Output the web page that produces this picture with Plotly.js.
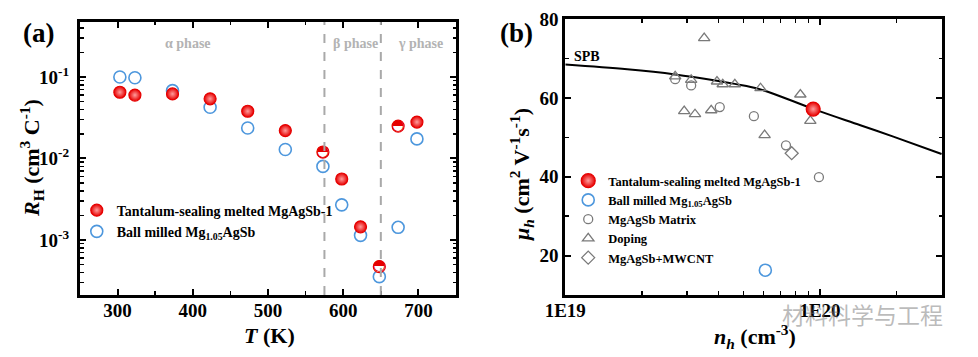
<!DOCTYPE html>
<html><head><meta charset="utf-8">
<script src="https://cdn.plot.ly/plotly-3.0.1.min.js"></script>
<style>body{margin:0;background:#fff}#chart{width:978px;height:357px}</style>
</head><body><div id="chart"></div>
<script>
// ---------- Panel (a): Hall coefficient vs temperature ----------
const temperatureK = [303, 323, 373, 423, 473, 523, 573, 598, 623, 648, 673, 698];
const rhTantalum   = [0.065, 0.060, 0.062, 0.054, 0.038, 0.022, 0.012, 0.0056, 0.00145, 0.00047, 0.025, 0.028];
const rhBallMilled = [0.100, 0.098, 0.068, 0.0425, 0.0237, 0.0129, 0.0080, 0.0027, 0.00114, 0.000355, 0.00143, 0.0174];
const halfFilledT  = [573, 648, 673];
const phaseBoundariesK = [575, 650];
const phaseLabels  = ['α phase', 'β phase', 'γ phase'];
const phaseLabelT  = [393, 616, 703];
const phaseLabelRH = 0.26;
const rhTickVals   = [0.001, 0.01, 0.1];
const rhTickText   = ['10<sup>-3</sup>', '10<sup>-2</sup>', '10<sup>-1</sup>'];

// ---------- Panel (b): mobility vs carrier concentration ----------
const nhTantalum = [9.4e19];  const muTantalum = [57.2];
const nhBall     = [6.1e19];  const muBall     = [16.3];
const nhMatrix = [2.70e19, 3.12e19, 4.04e19, 5.5e19, 7.35e19, 9.9e19];
const muMatrix = [64.8, 63.2, 57.7, 55.4, 48.0, 39.9];
const nhDoping = [2.70e19, 3.12e19, 3.51e19, 3.94e19, 4.15e19, 4.63e19, 5.84e19, 8.37e19, 9.16e19, 2.93e19, 3.23e19, 3.74e19, 6.06e19];
const muDoping = [65.5, 64.6, 75.2, 64.2, 63.5, 63.5, 62.5, 60.9, 54.2, 56.7, 55.9, 56.9, 50.6];
const nhMWCNT = [7.74e19]; const muMWCNT = [46.0];
const nhSPB = [1e19, 1.75e19, 2.7e19, 3.94e19, 4.63e19, 5.84e19, 9.44e19, 1.44e20, 1.94e20, 3e20];
const muSPB = [68.5, 67.3, 66.0, 64.4, 63.6, 62.2, 57.2, 53.1, 50.2, 45.8];
const nhTickVals = [1e19, 1e20];
const nhTickText = ['1E19', '1E20'];

const SERIF = 'Liberation Serif, Times New Roman, serif';
const RED = '#e60000', RED_LIGHT = '#ff9c9c', BLUE = '#4d97dd', GRAY = '#7a7a7a';

const isHalf = temperatureK.map(t => halfFilledT.includes(t));

const traces = [
  { x: temperatureK, y: rhBallMilled, xaxis: 'x', yaxis: 'y', mode: 'markers', legend: 'legend', legendrank: 2,
    name: 'Ball milled Mg<sub>1.05</sub>AgSb',
    marker: { symbol: 'circle-open', size: 12, color: BLUE, line: { color: BLUE, width: 1.6 } } },
  { x: temperatureK, y: rhTantalum, xaxis: 'x', yaxis: 'y', mode: 'markers', legend: 'legend', legendrank: 1,
    name: 'Tantalum-sealing melted MgAgSb-1',
    marker: { symbol: 'circle', size: 12,
      color: isHalf.map(h => h ? '#ffffff' : RED),
      gradient: { type: isHalf.map(h => h ? 'none' : 'radial'), color: RED_LIGHT },
      line: { color: RED, width: 1.2 } } },
  { x: halfFilledT, y: halfFilledT.map(t => rhTantalum[temperatureK.indexOf(t)]), xaxis: 'x', yaxis: 'y',
    mode: 'text', text: halfFilledT.map(() => '◓'), textposition: 'middle center',
    textfont: { family: 'DejaVu Sans', size: 15, color: RED }, showlegend: false, hoverinfo: 'skip' },

  { x: nhSPB, y: muSPB, xaxis: 'x2', yaxis: 'y2', mode: 'lines', line: { color: '#000', width: 2, shape: 'spline' },
    showlegend: false, hoverinfo: 'skip' },
  { x: nhMatrix, y: muMatrix, xaxis: 'x2', yaxis: 'y2', mode: 'markers', legend: 'legend2', legendrank: 3, name: 'MgAgSb Matrix',
    marker: { symbol: 'circle-open', size: 9, color: GRAY, line: { color: GRAY, width: 1.3 } } },
  { x: nhDoping, y: muDoping, xaxis: 'x2', yaxis: 'y2', mode: 'markers', legend: 'legend2', legendrank: 4, name: 'Doping',
    marker: { symbol: 'triangle-up-open', size: 10, color: GRAY, line: { color: GRAY, width: 1.3 } } },
  { x: nhMWCNT, y: muMWCNT, xaxis: 'x2', yaxis: 'y2', mode: 'markers', legend: 'legend2', legendrank: 5, name: 'MgAgSb+MWCNT',
    marker: { symbol: 'diamond-open', size: 10, color: GRAY, line: { color: GRAY, width: 1.3 } } },
  { x: nhBall, y: muBall, xaxis: 'x2', yaxis: 'y2', mode: 'markers', legend: 'legend2', legendrank: 2,
    name: 'Ball milled Mg<sub>1.05</sub>AgSb',
    marker: { symbol: 'circle-open', size: 12, color: BLUE, line: { color: BLUE, width: 1.6 } } },
  { x: nhTantalum, y: muTantalum, xaxis: 'x2', yaxis: 'y2', mode: 'markers', legend: 'legend2', legendrank: 1,
    name: 'Tantalum-sealing melted MgAgSb-1',
    marker: { symbol: 'circle', size: 14, color: RED, gradient: { type: 'radial', color: RED_LIGHT },
      line: { color: RED, width: 1.2 } } }
];

const tickFont = { family: SERIF, size: 19, color: '#000', weight: 'bold' };
const frame = { showline: true, linewidth: 3, linecolor: '#000', mirror: 'allticks', ticks: 'inside',
  ticklen: 6, tickwidth: 2, tickcolor: '#000', showgrid: false, zeroline: false, tickfont: tickFont };
const minorTicks = (d) => ({ dtick: d, ticks: 'inside', ticklen: 3.5, tickwidth: 1.5, tickcolor: '#000', showgrid: false });

const ann = (text, x, y, size, extra) => Object.assign({ text, xref: 'paper', yref: 'paper', x: x / 978, y: 1 - y / 357,
  xanchor: 'center', yanchor: 'middle', showarrow: false,
  font: { family: SERIF, size, weight: 'bold', color: '#000' } }, extra || {});

const layout = {
  width: 978, height: 357,
  margin: { l: 0, r: 0, t: 0, b: 0 },
  paper_bgcolor: '#fff', plot_bgcolor: '#fff',
  font: { family: SERIF, color: '#000' },
  showlegend: true,
  xaxis: Object.assign({}, frame, { domain: [0.0818, 0.4663], range: [250, 750], tick0: 0, dtick: 100,
    minor: minorTicks(50), ticklabelstandoff: -4 }),
  yaxis: Object.assign({}, frame, { domain: [0.1737, 0.9384], type: 'log', range: [-3.675, -0.325],
    tickmode: 'array', tickvals: rhTickVals, ticktext: rhTickText, minor: minorTicks('D1'), ticklabelstandoff: 4 }),
  xaxis2: Object.assign({}, frame, { domain: [0.578, 0.9635], anchor: 'y2', type: 'log', range: [19, 20.48],
    tickmode: 'array', tickvals: nhTickVals, ticktext: nhTickText, minor: minorTicks('D1'), ticklabelstandoff: -4 }),
  yaxis2: Object.assign({}, frame, { domain: [0.1737, 0.946], anchor: 'x2', range: [10, 80], tick0: 0, dtick: 20,
    minor: minorTicks(10), ticklabelstandoff: 0 }),
  legend: { x: 0.0785, y: 0.455, xanchor: 'left', yanchor: 'top', bgcolor: 'rgba(0,0,0,0)',
    font: { family: SERIF, size: 14, color: '#000', weight: 'bold' }, itemwidth: 30, traceorder: 'normal' },
  legend2: { x: 0.581, y: 0.535, xanchor: 'left', yanchor: 'top', bgcolor: 'rgba(0,0,0,0)',
    font: { family: SERIF, size: 12.5, color: '#000', weight: 'bold' }, itemwidth: 30, traceorder: 'normal' },
  shapes: phaseBoundariesK.map(t => ({ type: 'line', xref: 'x', yref: 'y domain', x0: t, x1: t, y0: 0, y1: 1,
    line: { color: '#a9a9a9', width: 2, dash: 'dash' } })),
  annotations: [
    ann('(a)', 38, 33, 27),
    ann('(b)', 516, 33, 27),
    ann('SPB', 587, 56, 14),
    ann('<i>T</i> (K)', 269, 335, 22),
    ann('<i>R</i><sub>H</sub> (cm<sup>3</sup> C<sup>-1</sup>)', 31, 158, 22, { textangle: -90 }),
    ann('<i>n<sub>h</sub></i> (cm<sup>-3</sup>)', 755, 336, 22),
    ann('<i>μ<sub>h</sub></i> (cm<sup>2</sup> V<sup>-1</sup>s<sup>-1</sup>)', 521, 175, 22, { textangle: -90 }),
    ...phaseLabels.map((t, i) => ({ text: t, xref: 'x', yref: 'y', x: phaseLabelT[i], y: Math.log10(phaseLabelRH),
      showarrow: false, xanchor: 'center', yanchor: 'middle',
      font: { family: SERIF, size: 14, weight: 'bold', color: '#b3b3b3' } })),
    ann('材料科学与工程', 862, 314, 23, { font: { family: 'Noto Sans CJK SC', size: 23, color: 'rgba(120,120,120,0.5)' } })
  ]
};

Plotly.newPlot('chart', traces, layout, { staticPlot: true, displayModeBar: false });
</script>
</body></html>
